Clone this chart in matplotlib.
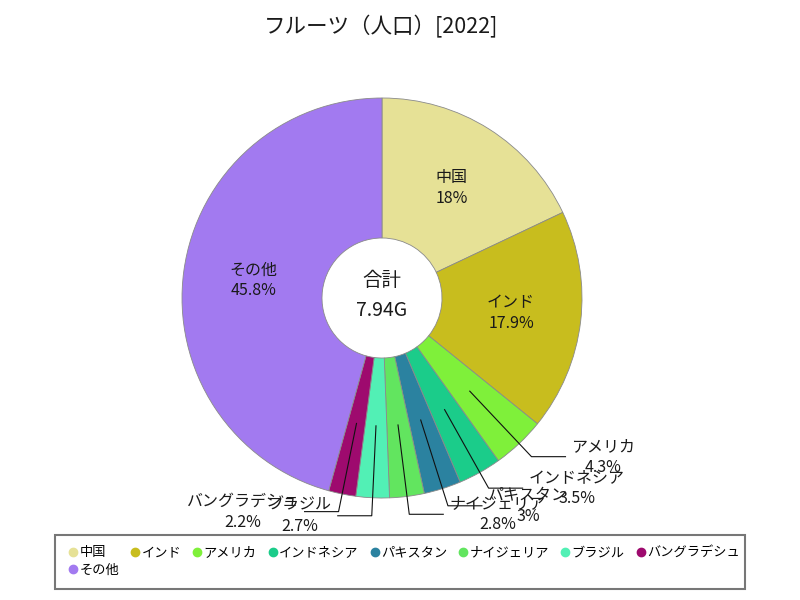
import numpy as np
import matplotlib
matplotlib.use('Agg')
import matplotlib.pyplot as plt
from matplotlib.patches import Rectangle
from matplotlib.lines import Line2D

plt.rcParams['font.family'] = ['Noto Sans CJK JP', 'DejaVu Sans']

# data (share of world population, %)
countries = ["中国", "インド", "アメリカ", "インドネシア", "パキスタン",
             "ナイジェリア", "ブラジル", "バングラデシュ", "その他"]
shares = [18, 17.9, 4.3, 3.5, 3, 2.8, 2.7, 2.2, 45.8]
total_label = "7.94G"
colors = ["#e6e196", "#c8bd1e", "#7ff03a", "#1bcc8a", "#2b82a0",
          "#62e55f", "#52f0b5", "#9e0a6e", "#a27af0"]
outside = ["アメリカ", "インドネシア", "パキスタン", "ナイジェリア", "ブラジル", "バングラデシュ"]

fig = plt.figure(figsize=(8, 6), dpi=100)
ax = fig.add_axes([132 / 800, 52 / 600, 500 / 800, 500 / 600])
ax.set_xlim(-1.25, 1.25)
ax.set_ylim(-1.25, 1.25)
ax.set_aspect('equal')
ax.axis('off')

wedges, _ = ax.pie(shares, colors=colors, startangle=90, counterclock=False,
                   radius=1, wedgeprops=dict(width=0.7, edgecolor='#8a8a8a', linewidth=0.6))

txt_kw = dict(fontsize=11.5, color='#1a1a1a', linespacing=1.3, multialignment='center')
for w, name, v in zip(wedges, countries, shares):
    mid = np.deg2rad((w.theta1 + w.theta2) / 2)
    c, s = np.cos(mid), np.sin(mid)
    label = f"{name}\n{v:g}%"
    if name not in outside:
        ax.text(0.65 * c, 0.65 * s, label, ha='center', va='center', **txt_kw)
        continue
    x0, y0 = 0.64 * c, 0.64 * s
    x1, y1 = 1.09 * c, 1.09 * s
    d = 1 if c >= 0 else -1
    x2 = x1 + d * 0.17
    ax.plot([x0, x1, x2], [y0, y1, y1], color='#111111', lw=0.8, clip_on=False)
    ax.text(x2 + d * 0.03, y1, label, ha='left' if d > 0 else 'right', va='center', **txt_kw)

ax.text(0, 0.09, "合計", ha='center', va='center', fontsize=14, color='#1a1a1a')
ax.text(0, -0.065, total_label, ha='center', va='center', fontsize=14, color='#1a1a1a')

fig.text(381 / 800, 1 - 27 / 600, "フルーツ（人口）[2022]", ha='center', va='center',
         fontsize=15.5, color='#1a1a1a')

# legend: reorder so that the last entry wraps to a second row
handles = [Line2D([], [], marker='o', ls='none', markersize=6, color=col, label=n)
           for n, col in zip(countries, colors)]
order = [0, 8, 1, 2, 3, 4, 5, 6, 7]
fig.legend([handles[i] for i in order], [countries[i] for i in order], ncol=8,
           loc='upper left', bbox_to_anchor=(57 / 800, 1 - 537 / 600), frameon=False,
           fontsize=9.5, handletextpad=0.0, columnspacing=0.7, handlelength=1.0,
           labelspacing=0.35, borderpad=0.2)
fig.patches.append(Rectangle((55 / 800, 1 - 589 / 600), 690 / 800, 54 / 600,
                             transform=fig.transFigure, fill=False,
                             edgecolor='#777777', linewidth=1.5))

fig.savefig("out.png", dpi=100)
